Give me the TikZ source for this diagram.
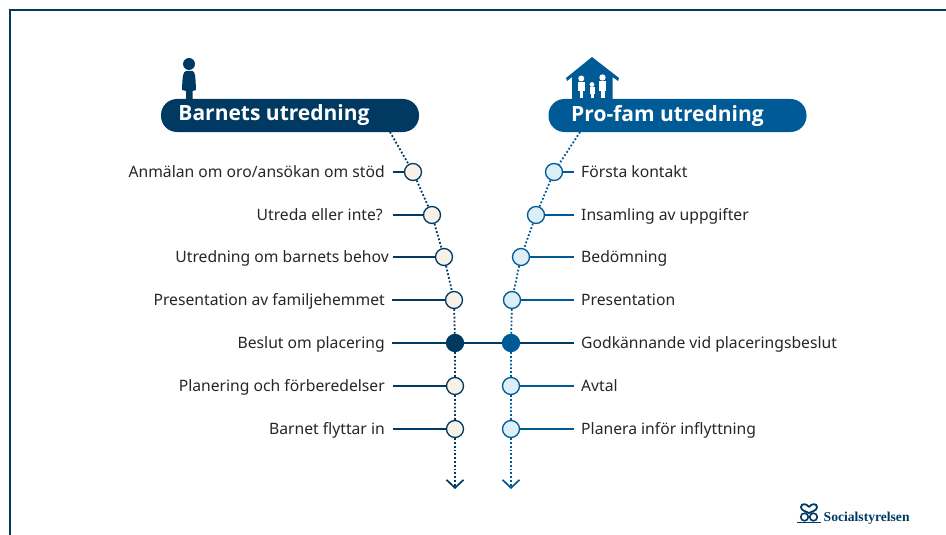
\documentclass[tikz,border=0pt]{standalone}
\usepackage{fontspec}
\setmainfont{Noto Sans}
\newfontfamily\headfont{Open Sans}
\newfontfamily\logofont{Liberation Serif}
\usetikzlibrary{arrows.meta,positioning}
\definecolor{barnblue}{HTML}{003A63}
\definecolor{famblue}{HTML}{005A96}
\definecolor{barnfill}{HTML}{F7F1E7}
\definecolor{famfill}{HTML}{DCEEF6}

\begin{document}
\begin{tikzpicture}[x=1pt,y=-1pt]
    \tikzstyle{header} = [shape=rectangle, rounded corners=16pt, minimum width=258pt, minimum height=33pt, inner sep=0pt, text=white, font=\headfont\fontsize{21}{24}\selectfont\bfseries];
    \tikzstyle{barnstep} = [shape=circle, fill=barnfill, draw=barnblue, line width=1.3pt, minimum size=17pt, inner sep=0pt];
    \tikzstyle{famstep} = [shape=circle, fill=famfill, draw=famblue, line width=1.3pt, minimum size=17pt, inner sep=0pt];
    \tikzstyle{steptext} = [inner ysep=0pt, text height=13pt, text depth=3pt, text=black!85, font=\fontsize{15.7}{18}\selectfont];
    \tikzstyle{barntext} = [steptext, anchor=east, inner xsep=8pt];
    \tikzstyle{famtext} = [steptext, anchor=west, inner xsep=7pt];
    \tikzstyle{barnline} = [draw=barnblue, line width=1.3pt];
    \tikzstyle{famline} = [draw=famblue, line width=1.3pt];
    \tikzstyle{barndots} = [draw=barnblue, line width=1.8pt, dotted];
    \tikzstyle{famdots} = [draw=famblue, line width=1.8pt, dotted];

    \useasboundingbox (0,0) rectangle (946,535);

    % frame
    \draw[barnblue, line width=2pt] (10,535) -- (10,10) -- (946,10);

    % headers
    \node[header, fill=barnblue, anchor=center](BH) at (290,115.5) {\hspace*{-32pt}Barnets utredning};
    \node[header, fill=famblue, anchor=center](FH) at (677.5,115.5) {\hspace*{-20pt}Pro-fam utredning};
    \coordinate (BS) at (390,132);
    \coordinate (FS) at (580,132);
    \coordinate (BE) at (455,489);
    \coordinate (FE) at (511,489);

    % left column
    \node[barnstep](B1) at (413,172) {};
    \node[barnstep](B2) at (432,215) {};
    \node[barnstep](B3) at (444,257) {};
    \node[barnstep](B4) at (454,300) {};
    \node[barnstep, fill=barnblue](B5) at (455,343) {};
    \node[barnstep](B6) at (455,386) {};
    \node[barnstep](B7) at (455,429) {};

    % right column
    \node[famstep](F1) at (554,172) {};
    \node[famstep](F2) at (536,215) {};
    \node[famstep](F3) at (521,257) {};
    \node[famstep](F4) at (512,300) {};
    \node[famstep, fill=famblue](F5) at (511,343) {};
    \node[famstep](F6) at (511,386) {};
    \node[famstep](F7) at (511,429) {};

    % labels
    \node[barntext](BL1) at (393,172) {Anmälan om oro/ansökan om stöd};
    \node[barntext, inner xsep=10pt](BL2) at (393,215) {Utreda eller inte?};
    \node[barntext, inner xsep=4pt](BL3) at (393,257) {Utredning om barnets behov};
    \node[barntext, inner xsep=7pt](BL4) at (392,300) {Presentation av familjehemmet};
    \node[barntext, inner xsep=7pt](BL5) at (392,343) {Beslut om placering};
    \node[barntext](BL6) at (393,386) {Planering och förberedelser};
    \node[barntext](BL7) at (393,429) {Barnet flyttar in};

    \node[famtext](FL1) at (574,172) {Första kontakt};
    \node[famtext](FL2) at (574,215) {Insamling av uppgifter};
    \node[famtext](FL3) at (574,257) {Bedömning};
    \node[famtext](FL4) at (574,300) {Presentation};
    \node[famtext](FL5) at (574,343) {Godkännande vid placeringsbeslut};
    \node[famtext](FL6) at (574,386) {Avtal};
    \node[famtext](FL7) at (574,429) {Planera inför inflyttning};

    % dotted paths
    \draw[barndots] (BS) -- (B1) (B1) -- (B2) (B2) -- (B3) (B3) -- (B4) (B4) -- (B5) (B5) -- (B6) (B6) -- (B7);
    \draw[famdots] (FS) -- (F1) (F1) -- (F2) (F2) -- (F3) (F3) -- (F4) (F4) -- (F5) (F5) -- (F6) (F6) -- (F7);
    \draw[barndots, -{Straight Barb[length=8pt,width=17pt,line width=1.7pt]}] (B7) -- (BE);
    \draw[famdots, -{Straight Barb[length=8pt,width=17pt,line width=1.7pt]}] (F7) -- (FE);

    % solid branches
    \draw[barnline]
        (BL1) -- (B1)
        (BL2) -- (B2)
        (BL3) -- (B3)
        (BL4) -- (B4)
        (BL5) -- (B5)
        (BL6) -- (B6)
        (BL7) -- (B7)
        (B5) -- (F5);
    \draw[famline]
        (F1) -- (FL1)
        (F2) -- (FL2)
        (F3) -- (FL3)
        (F4) -- (FL4)
        (F6) -- (FL6)
        (F7) -- (FL7);
    \draw[barnline] (F5) -- (FL5);

    % person icon
    \fill[barnblue] (189,64) circle (6);
    \fill[barnblue] (186,71) -- (192.5,71) .. controls (195,72) and (195.5,75) .. (196,90) -- (192.5,91) -- (192.5,100) -- (186,100) -- (186,91) -- (182,90) .. controls (182.5,75) and (183,72) .. (186,71) -- cycle;

    % house icon
    \fill[famblue] (592,57) -- (619,78) -- (618,81) -- (612.5,77) -- (612.5,100) -- (572,100) -- (572,77) -- (567,81) -- (566,78) -- cycle;
    \fill[white] (581.3,78.5) circle (3);
    \fill[white] (578,82.5) rectangle (584.5,91);
    \fill[white] (579.5,91) rectangle (583,98.5);
    \fill[white] (602.5,77.5) circle (3.2);
    \fill[white] (599,81.5) rectangle (606,91);
    \fill[white] (600.5,91) rectangle (604.5,98.5);
    \fill[white] (592,84.5) circle (2.4);
    \fill[white] (589.5,87.5) rectangle (594.5,94);
    \fill[white] (590.5,94) rectangle (593.5,98.5);

    % logo
    \node[anchor=west, inner sep=0pt, text=barnblue, font=\logofont\fontsize{13.6}{16}\selectfont\bfseries](LG) at (823.5,518.5) {Socialstyrelsen};
    \draw[barnblue, line width=1.8pt] (809,507) .. controls (807,503.5) and (801,503) .. (801,507) .. controls (801,510.5) and (805,511) .. (809,513) .. controls (813,511) and (817,510.5) .. (817,507) .. controls (817,503) and (811,503.5) .. (809,507);
    \draw[barnblue, line width=1.6pt] (804.5,517) circle (3.8) (813.5,517) circle (3.8);
    \draw[barnblue, line width=1.6pt] (797,522.5) -- (821,522.5);
\end{tikzpicture}
\end{document}
